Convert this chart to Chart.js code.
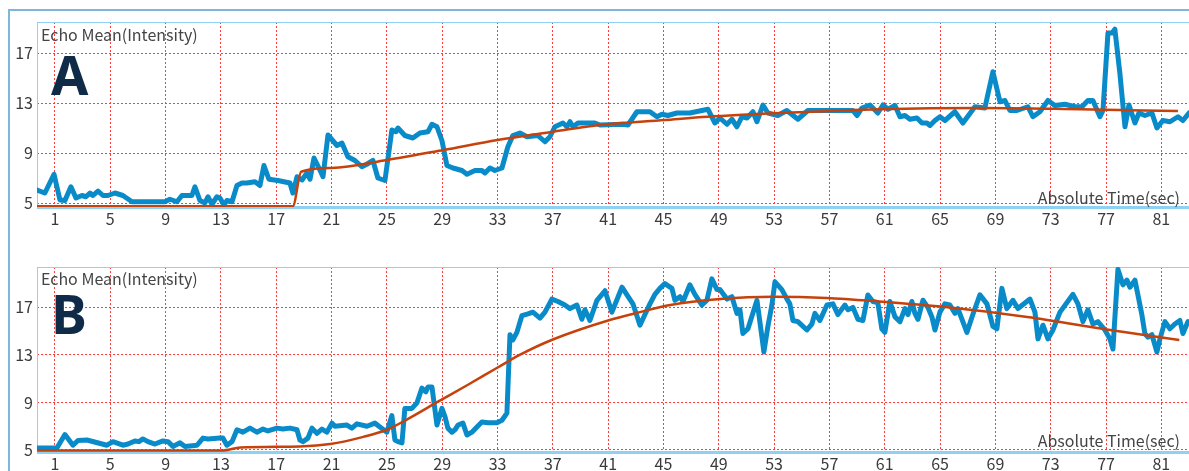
<!DOCTYPE html>
<html>
<head>
<meta charset="utf-8">
<script src="https://cdn.jsdelivr.net/npm/chart.js@4"></script>
<style>
  body { margin: 0; background: #fff; overflow: hidden; }
  #frame { position: absolute; left: 8px; top: 9px; width: 1300px; height: 600px; border-top: 2px solid #7fb7dc; border-left: 2px solid #7fb7dc; }
  canvas { position: absolute; left: 0; }
  #chartA { top: 0; }
  #chartB { top: 235px; }
</style>
</head>
<body>
<div id="frame"></div>
<canvas id="chartA" width="1189" height="235"></canvas>
<canvas id="chartB" width="1189" height="236"></canvas>
<script>
// x tick labels (sec) and y tick labels shared by both panels
var timeTicks = [1, 5, 9, 13, 17, 21, 25, 29, 33, 37, 41, 45, 49, 53, 57, 61, 65, 69, 73, 77, 81];
var echoTicks = [5, 9, 13, 17];

// panel A - measured echo mean
var timeA = [-0.3,0.27,0.93,1.36,1.72,2.15,2.52,2.95,3.24,3.53,3.75,4.11,4.47,4.83,5.34,5.91,6.57,8.95,9.31,9.82,
  10.18,10.9,11.12,11.48,11.84,12.06,12.35,12.71,12.93,13.22,13.43,13.8,14.16,14.52,14.88,15.46,15.82,16.11,16.47,17.12,
  17.99,18.2,18.5,18.86,19.22,19.44,19.73,20.09,20.38,20.74,21.39,21.75,22.18,22.69,23.19,23.55,23.99,24.35,24.86,25.36,
  25.65,25.8,26.3,26.88,27.39,27.97,28.26,28.62,28.98,29.34,29.78,30.43,30.79,31.37,31.87,32.09,32.45,32.81,33.32,33.75,
  34.11,34.62,35.13,35.92,36.43,36.79,37.15,37.73,38.02,38.24,38.46,38.82,40.04,40.41,42.07,42.43,43.08,44.02,44.53,44.89,
  45.32,45.97,46.91,48.21,48.72,49.08,49.59,49.95,50.31,50.67,51.04,51.47,51.76,52.19,52.55,53.27,53.92,54.72,55.44,58.7,
  58.99,59.35,59.93,60.5,60.87,61.23,61.74,62.1,62.46,62.82,63.33,63.69,64.05,64.27,64.63,64.99,65.35,66.07,66.65,67.52,
  68.24,68.82,69.33,69.69,70.05,70.56,71.35,71.71,72.22,72.8,73.3,74.03,74.75,75.26,75.69,76.05,76.56,76.78,77.14,77.43,
  77.64,78.0,78.37,78.66,79.09,79.38,79.81,80.32,80.68,81.11,81.62,82.2,82.56,83.0];
var echoA = [6.04,5.8,7.3,5.24,5.2,6.3,5.4,5.6,5.5,5.8,5.6,5.96,5.6,5.6,5.8,5.6,5.1,5.1,5.3,5.1,
  5.6,5.6,6.3,5.2,5.0,5.5,4.9,5.5,5.4,4.84,5.2,5.1,6.4,6.6,6.6,6.7,6.4,8.0,6.9,6.8,
  6.6,5.8,7.1,6.84,7.4,6.9,8.6,7.8,7.1,10.44,9.6,9.8,8.7,8.4,7.9,8.1,8.4,7.0,6.8,10.84,
  10.7,11.0,10.4,10.2,10.6,10.7,11.3,11.1,10.0,8.0,7.8,7.6,7.3,7.6,7.6,7.4,7.8,7.6,7.8,9.5,
  10.4,10.6,10.3,10.4,9.9,10.3,11.1,11.4,11.1,11.5,11.1,11.4,11.4,11.24,11.3,11.24,12.3,12.3,11.9,12.1,
  12.0,12.2,12.2,12.5,11.4,11.8,11.3,11.7,11.1,11.9,11.8,12.3,11.5,12.84,12.2,12.0,12.4,11.7,12.4,12.4,
  12.0,12.6,12.84,12.2,12.84,12.5,12.8,11.9,12.0,11.7,11.8,11.4,11.4,11.2,11.6,11.9,11.6,12.3,11.4,12.7,
  12.6,15.5,13.1,13.2,12.4,12.4,12.7,11.9,12.3,13.2,12.8,12.9,12.7,12.7,13.2,13.2,11.9,12.4,18.6,18.6,
  18.9,15.4,11.1,12.84,11.4,12.2,12.0,12.2,11.0,11.6,11.5,11.9,11.6,12.2];

// panel A - fitted curve
var fitTimeA = [-0.3, 18.2, 18.8, 21, 25, 29.1, 33, 37, 40.4, 45.1, 48.2, 53.4, 57, 60.6, 67.9, 75.1, 82.2];
var fitA = [4.74, 4.74, 7.5, 7.8, 8.44, 9.24, 10.04, 10.7, 11.24, 11.64, 11.9, 12.2, 12.36, 12.5, 12.6, 12.5, 12.36];

// panel B - measured echo mean
var timeB = [-0.3,1.14,1.72,2.3,2.66,3.31,4.76,5.19,5.91,6.28,6.78,7.07,7.36,7.72,8.23,8.81,9.17,9.53,10.04,10.4,
  11.27,11.7,12.06,12.93,13.14,13.43,13.8,14.16,14.59,15.1,15.6,16.04,16.4,17.05,17.48,17.99,18.5,18.71,18.93,19.29,
  19.58,19.94,20.3,20.66,21.03,21.24,22.11,22.47,22.83,23.56,24.13,24.5,25.0,25.36,25.58,25.8,26.09,26.3,26.81,27.17,
  27.53,27.82,27.97,28.26,28.62,28.98,29.2,29.41,29.7,29.92,30.14,30.5,30.79,31.15,31.51,31.87,32.31,32.96,33.32,33.68,
  33.9,34.11,34.4,34.76,35.2,35.56,36.07,36.43,36.93,37.37,37.87,38.24,38.74,39.1,39.32,39.68,40.19,40.77,41.27,42.0,
  42.36,42.79,43.3,43.66,44.02,44.38,44.74,45.1,45.61,45.83,46.19,46.41,46.91,47.27,47.78,48.14,48.5,48.87,49.08,49.59,
  49.95,50.31,50.53,50.74,51.11,51.76,52.12,52.26,52.55,52.84,53.06,53.56,53.93,54.14,54.36,54.72,55.37,55.73,55.95,56.31,
  56.82,57.25,57.61,58.12,58.34,58.7,59.06,59.42,59.78,60.14,60.5,60.79,61.01,61.37,61.74,62.1,62.46,62.68,62.96,63.18,
  63.4,63.76,64.12,64.41,64.63,64.99,65.35,65.71,66.07,66.29,66.94,67.37,67.88,68.39,68.82,69.11,69.47,69.83,70.27,70.63,
  71.5,71.86,72.08,72.44,72.8,73.16,73.67,74.61,74.97,75.33,75.69,76.05,76.41,76.92,77.28,77.5,77.86,78.22,78.51,78.73,
  79.09,79.59,79.81,80.03,80.32,80.68,80.9,81.26,81.62,81.98,82.34,82.56,82.92];
var echoB = [5.17,5.17,6.3,5.4,5.8,5.84,5.4,5.7,5.4,5.5,5.76,5.7,5.93,5.7,5.5,5.76,5.7,5.3,5.6,5.3,
  5.4,6.0,5.93,6.0,6.0,5.4,5.7,6.7,6.5,6.84,6.5,6.76,6.6,6.84,6.76,6.84,6.7,5.84,5.7,6.0,
  6.84,6.4,6.76,6.5,7.26,7.0,7.1,6.84,7.2,7.0,7.26,6.94,6.5,7.9,5.84,5.7,5.6,8.5,8.5,8.96,
  10.2,9.9,10.3,10.3,7.1,8.5,7.8,6.84,6.5,6.7,7.1,7.26,6.26,6.5,6.94,7.36,7.3,7.3,7.5,8.1,
  14.7,14.26,14.9,16.3,16.45,16.6,16.1,16.6,17.7,17.5,17.2,16.9,17.2,16.0,16.8,15.9,17.6,18.4,16.6,18.7,
  18.05,17.3,15.5,16.4,17.3,18.1,18.6,19.0,18.6,17.6,17.9,17.5,18.9,18.1,17.2,17.6,19.4,18.5,18.5,17.7,
  17.9,16.5,16.8,14.8,15.2,17.6,14.5,13.25,15.4,17.2,19.15,18.5,17.7,17.3,15.9,15.8,15.1,15.6,16.5,15.9,
  17.2,17.3,16.4,17.2,16.8,17.0,16.0,15.9,18.05,17.5,17.4,15.2,14.9,17.5,16.2,15.8,16.9,16.4,17.5,16.5,
  16.0,17.6,17.0,16.2,15.1,16.6,17.3,17.2,16.5,16.9,14.9,16.4,18.05,17.3,15.4,15.2,18.6,16.9,17.6,16.9,
  17.7,16.6,14.35,15.5,14.35,15.1,16.6,18.1,17.3,15.8,16.8,15.6,15.8,15.1,14.35,13.5,20.2,18.9,19.3,18.7,
  19.3,16.4,14.8,14.5,14.7,13.25,14.35,15.8,15.2,15.6,15.9,14.8,15.8];

// panel B - fitted curve
var fitTimeB = [-0.3, 13.07, 14.4, 18.7, 20.9, 23.3, 25.0, 26.5, 28.6, 30.8, 32.95, 34.6, 37.0, 41.0, 43.3, 45.5, 49.1, 52.9, 56.8, 60.6, 65.2, 71.3, 77.3, 82.3];
var fitB = [4.95, 4.95, 5.2, 5.3, 5.5, 6.1, 6.7, 7.6, 9.0, 10.45, 11.9, 13.0, 14.3, 15.9, 16.6, 17.2, 17.7, 17.9, 17.8, 17.5, 17.05, 16.2, 15.1, 14.26];

var FONT = '"Noto Sans CJK SC", "Noto Sans", sans-serif';

function toPoints(xs, ys) {
	return xs.map(function (x, i) { return { x: x, y: ys[i] }; });
}

var panelPlugin = {
	id: 'panel',
	beforeDatasetsDraw: function (chart, args, opts) {
		var ctx = chart.ctx;
		var a = chart.chartArea;
		ctx.save();
		// plot frame
		ctx.strokeStyle = '#8fd0f3';
		ctx.lineWidth = 1;
		ctx.strokeRect(a.left + 0.5, a.top + 0.5, a.right - a.left, a.bottom - a.top);
		ctx.fillStyle = '#8fd0f3';
		ctx.fillRect(a.left, a.bottom - 1, a.right - a.left, 3);
		// texts
		ctx.fillStyle = '#444';
		ctx.font = '16px ' + FONT;
		ctx.textBaseline = 'alphabetic';
		ctx.textAlign = 'left';
		ctx.fillText('Echo Mean(Intensity)', a.left + 4, opts.titleY);
		ctx.textAlign = 'right';
		ctx.fillText('Absolute Time(sec)', 1180, opts.timeY);
		ctx.textAlign = 'left';
		ctx.fillStyle = '#0f2b48';
		ctx.font = 'bold 54px "Noto Sans", sans-serif';
		ctx.fillText(opts.letter, 51, opts.letterY);
		ctx.restore();
	}
};

function makeChart(id, xs, ys, fx, fy, yMin, yMax, top, axisH, panel) {
	var ctx = document.getElementById(id).getContext('2d');
	return new Chart(ctx, {
		type: 'line',
		data: {
			datasets: [{
				label: 'fit',
				data: toPoints(fx, fy),
				borderColor: '#c6420c',
				borderWidth: 2.5,
				pointRadius: 0,
				cubicInterpolationMode: 'monotone',
				order: 0
			}, {
				label: 'echo',
				data: toPoints(xs, ys),
				borderColor: '#0a8bc9',
				borderWidth: 5,
				borderJoinStyle: 'round',
				borderCapStyle: 'round',
				pointRadius: 0,
				tension: 0,
				order: 1
			}]
		},
		options: {
			responsive: false,
			animation: false,
			devicePixelRatio: 1,
			layout: { padding: { top: top, left: 0, right: 0, bottom: 0 } },
			plugins: {
				legend: { display: false },
				tooltip: { enabled: false },
				panel: panel
			},
			scales: {
				x: {
					type: 'linear',
					min: -0.3,
					max: 83,
					afterBuildTicks: function (axis) {
						axis.ticks = timeTicks.map(function (v) { return { value: v }; });
					},
					afterFit: function (axis) { axis.height = axisH; },
					grid: { color: '#ff3c3c', lineWidth: 1, drawTicks: false },
					border: { display: false, dash: [2, 2] },
					ticks: { padding: 2, color: '#3a3a3a', font: { size: 16, family: FONT }, maxRotation: 0, autoSkip: false }
				},
				y: {
					min: yMin,
					max: yMax,
					afterBuildTicks: function (axis) {
						axis.ticks = echoTicks.map(function (v) { return { value: v }; });
					},
					afterFit: function (axis) { axis.width = 37; },
					grid: { color: '#ff3c3c', lineWidth: 1, drawTicks: false },
					border: { display: false, dash: [2, 2] },
					ticks: { padding: 4, color: '#3a3a3a', font: { size: 16, family: FONT } }
				}
			}
		},
		plugins: [panelPlugin]
	});
}

window.onload = function () {
	window.chartA = makeChart('chartA', timeA, echoA, fitTimeA, fitA, 4.68, 19.48, 22, 28,
		{ letter: 'A', letterY: 95, titleY: 41, timeY: 204 });
	window.chartB = makeChart('chartB', timeB, echoB, fitTimeB, fitB, 4.83, 20.4, 32, 19,
		{ letter: 'B', letterY: 99, titleY: 50, timeY: 212 });
};
</script>
</body>
</html>
